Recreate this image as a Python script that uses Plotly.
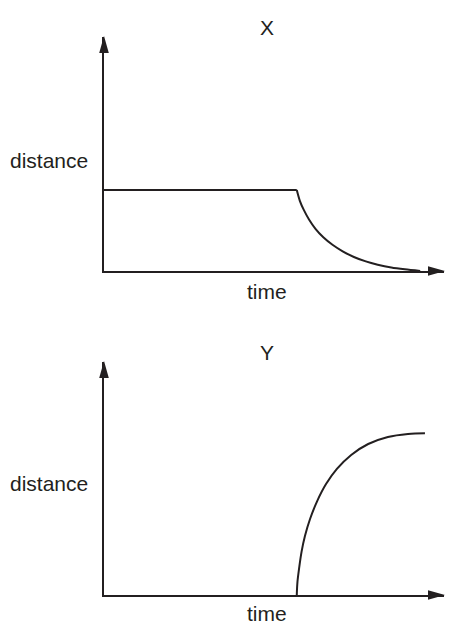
#!/usr/bin/env python3

import plotly.graph_objects as go

# distance-time sketches (time 0..10, distance 0..10)
flat_time = [0, 5.67]
flat_dist = [3.46, 3.46]
time_x = [5.67, 5.76, 5.88, 6.03, 6.22, 6.45, 6.72, 7.02, 7.35, 7.70, 8.05, 8.45, 8.85, 9.30]
dist_x = [3.46, 3.00, 2.60, 2.20, 1.80, 1.44, 1.12, 0.84, 0.60, 0.41, 0.27, 0.15, 0.07, 0.0]

time_y = [5.67, 5.69, 5.74, 5.81, 5.91, 6.06, 6.27, 6.53, 6.85, 7.27, 7.77, 8.35, 8.94, 9.44]
dist_y = [0.0, 0.56, 1.16, 1.85, 2.53, 3.26, 4.03, 4.76, 5.41, 6.01, 6.48, 6.78, 6.91, 6.94]

panel_titles = ["X", "Y"]
x_label = "time"
y_label = "distance"

W, H = 454, 624
ink = "#231f20"
font = dict(family="Liberation Sans, Arial, sans-serif", size=21, color=ink)


def px(x):
    return x / W


def py(y):
    return 1 - y / H


fig = go.Figure()
fig.add_trace(go.Scatter(x=flat_time, y=flat_dist, mode="lines", line=dict(color=ink, width=2),
                         xaxis="x", yaxis="y", hoverinfo="skip"))
fig.add_trace(go.Scatter(x=time_x, y=dist_x, mode="lines", line=dict(color=ink, width=2, shape="spline", smoothing=0.8),
                         xaxis="x", yaxis="y", hoverinfo="skip"))
fig.add_trace(go.Scatter(x=time_y, y=dist_y, mode="lines", line=dict(color=ink, width=2, shape="spline", smoothing=1.0),
                         xaxis="x2", yaxis="y2", hoverinfo="skip"))

ax = dict(range=[0, 10], showline=True, linewidth=2, linecolor=ink, showgrid=False, zeroline=False,
          showticklabels=False, ticks="", fixedrange=True)
fig.update_layout(
    width=W, height=H, margin=dict(l=0, r=0, t=0, b=0),
    paper_bgcolor="white", plot_bgcolor="white", showlegend=False,
    xaxis=dict(ax, domain=[px(104), px(444)], anchor="y"),
    yaxis=dict(ax, domain=[py(271), py(37)], anchor="x"),
    xaxis2=dict(ax, domain=[px(104), px(444)], anchor="y2"),
    yaxis2=dict(ax, domain=[py(595), py(362)], anchor="x2"),
)

# arrow heads at the ends of the axes (domain refs so they are not clipped)
shapes = []
for xr, yr in [("x", "y"), ("x2", "y2")]:
    shapes.append(dict(type="path", xref=xr + " domain", yref=yr + " domain", xsizemode="pixel", ysizemode="pixel",
                       xanchor=1, yanchor=0, path="M 1 0 L -16 4.8 L -16 -4.8 Z",
                       fillcolor=ink, line=dict(width=0)))
    shapes.append(dict(type="path", xref=xr + " domain", yref=yr + " domain", xsizemode="pixel", ysizemode="pixel",
                       xanchor=0, yanchor=1, path="M 0 1 L -4.8 -16 L 4.8 -16 Z",
                       fillcolor=ink, line=dict(width=0)))
fig.update_layout(shapes=shapes)

# panel titles and axis labels
for title, ty, dy, ly in zip(panel_titles, [28, 352], [160, 483], [291, 613]):
    fig.add_annotation(text=title, x=px(267), y=py(ty), xref="paper", yref="paper",
                       showarrow=False, font=font, xanchor="center", yanchor="middle")
    fig.add_annotation(text=y_label, x=px(90), y=py(dy), xref="paper", yref="paper",
                       showarrow=False, font=font, xanchor="right", yanchor="middle")
    fig.add_annotation(text=x_label, x=px(267), y=py(ly), xref="paper", yref="paper",
                       showarrow=False, font=font, xanchor="center", yanchor="middle")

fig.write_html("out.html", config={"displayModeBar": False},
               post_script="document.body.style.margin='0';")
